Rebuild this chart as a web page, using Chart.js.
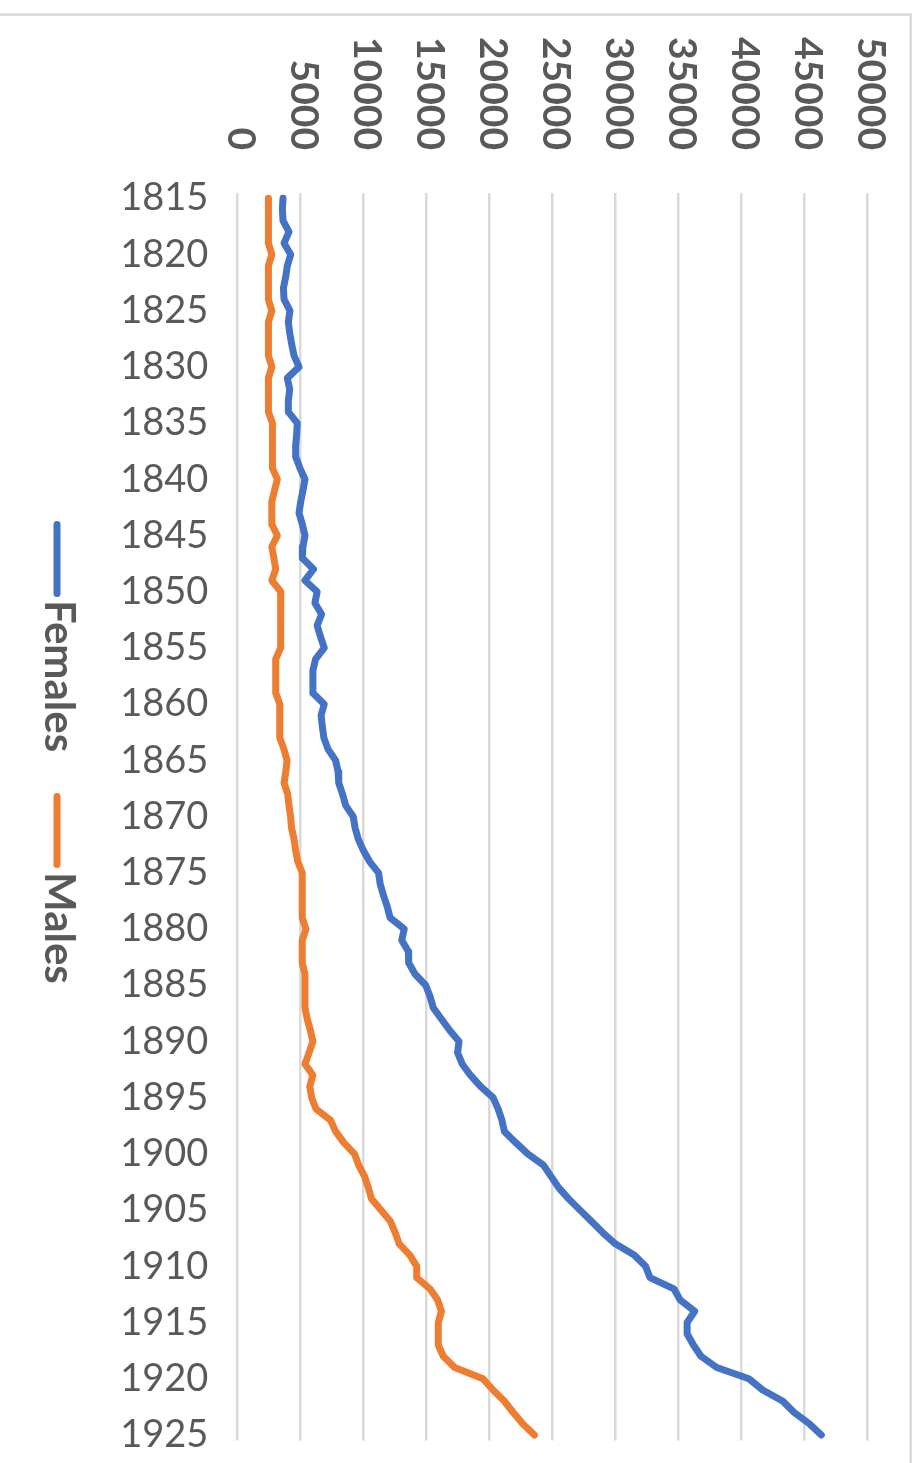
<!DOCTYPE html>
<html><head><meta charset="utf-8">
<script src="https://cdn.jsdelivr.net/npm/chart.js@4.4.1/dist/chart.umd.min.js"></script>
<style>html,body{margin:0;padding:0;background:#fff;} canvas{display:block;}</style>
</head><body>
<canvas id="c" width="922" height="1463"></canvas>
<script>
const years = [
'1815','1816','1817','1818','1819','1820','1821','1822','1823','1824',
'1825','1826','1827','1828','1829','1830','1831','1832','1833','1834',
'1835','1836','1837','1838','1839','1840','1841','1842','1843','1844',
'1845','1846','1847','1848','1849','1850','1851','1852','1853','1854',
'1855','1856','1857','1858','1859','1860','1861','1862','1863','1864',
'1865','1866','1867','1868','1869','1870','1871','1872','1873','1874',
'1875','1876','1877','1878','1879','1880','1881','1882','1883','1884',
'1885','1886','1887','1888','1889','1890','1891','1892','1893','1894',
'1895','1896','1897','1898','1899','1900','1901','1902','1903','1904',
'1905','1906','1907','1908','1909','1910','1911','1912','1913','1914',
'1915','1916','1917','1918','1919','1920','1921','1922','1923','1924',
'1925'];

const females = [
3630,3580,3630,4100,3710,4240,3970,3840,3660,3710,
4180,4050,4160,4320,4500,4900,3970,4160,4050,4050,
4760,4710,4630,4630,4970,5370,5210,5030,4900,5160,
5370,5210,5160,6050,5370,6340,6160,6690,6340,6600,
6900,6210,6000,6000,6000,6900,6650,6750,6870,7200,
7800,8000,8050,8350,8600,9200,9350,9600,10000,10500,
11210,11340,11600,11900,12130,13250,13050,13580,13600,14100,
14950,15300,15550,16200,16850,17600,17480,17850,18500,19300,
20300,20700,21000,21200,22100,23050,24300,24900,25500,26300,
27200,28100,29000,30000,31500,32400,32750,34650,35150,36300,
35700,35700,36200,36800,38050,40600,41700,43300,44200,45400,
46350];

const males = [
2470,2470,2470,2470,2470,2740,2470,2470,2470,2470,
2740,2470,2470,2470,2470,2740,2470,2470,2470,2470,
2790,2790,2790,2790,2790,3180,2950,2740,2740,2740,
3180,2740,2900,3050,2740,3450,3450,3450,3450,3450,
3400,3050,3050,3050,3050,3370,3370,3370,3370,3700,
3950,3850,3711,4000,4100,4230,4300,4500,4630,4800,
5150,5150,5150,5150,5150,5450,5150,5150,5150,5370,
5370,5370,5370,5550,5800,6000,5700,5370,6000,5750,
5900,6250,7400,7800,8450,9300,9630,10100,10400,10650,
11400,12150,12530,12850,13700,14240,14240,15290,15900,16200,
15950,15950,15950,16350,17250,19500,20300,21200,21900,22650,
23580];

const valueTicks = [0,5000,10000,15000,20000,25000,30000,35000,40000,45000,50000];
const seriesNames = ['Females','Males'];
const seriesColors = ['#4472C4','#ED7D31'];

const FONT = 'Lato, "Open Sans", sans-serif';
const TEXT = '#595959';

const framePlugin = {
  id: 'frame',
  beforeDraw(chart) {
    const ctx = chart.ctx;
    ctx.save();
    ctx.fillStyle = '#fff';
    ctx.fillRect(0, 0, chart.width, chart.height);
    ctx.strokeStyle = '#d9d9d9';
    ctx.lineWidth = 2.5;
    ctx.strokeRect(-10, 14.5, 920.7, 1500);
    ctx.restore();
  }
};

const labelsPlugin = {
  id: 'rotLabels',
  afterDraw(chart) {
    const ctx = chart.ctx;
    const xs = chart.scales.x;
    ctx.save();
    ctx.fillStyle = TEXT;
    ctx.font = 'bold 39px ' + FONT;
    ctx.textAlign = 'right';
    ctx.textBaseline = 'alphabetic';
    valueTicks.forEach(v => {
      const px = xs.getPixelForValue(v);
      ctx.save();
      ctx.translate(px - 9.5, 150);
      ctx.rotate(Math.PI / 2);
      ctx.fillText(String(v), 0, 0);
      ctx.restore();
    });
    const leg = [
      {y1: 524.5, y2: 593.5, ty: 600},
      {y1: 796.5, y2: 864.5, ty: 872}
    ];
    ctx.font = 'bold 42px ' + FONT;
    ctx.textAlign = 'left';
    seriesNames.forEach((name, i) => {
      const L = leg[i];
      ctx.strokeStyle = seriesColors[i];
      ctx.lineWidth = 7;
      ctx.lineCap = 'round';
      ctx.beginPath();
      ctx.moveTo(57, L.y1);
      ctx.lineTo(57, L.y2);
      ctx.stroke();
      ctx.save();
      ctx.translate(45, L.ty);
      ctx.rotate(Math.PI / 2);
      ctx.fillStyle = TEXT;
      ctx.fillText(name, 0, 0);
      ctx.restore();
    });
    ctx.restore();
  }
};

new Chart(document.getElementById('c'), {
  type: 'line',
  data: {
    labels: years,
    datasets: [
      {label: seriesNames[0], data: females, borderColor: seriesColors[0], backgroundColor: seriesColors[0],
       borderWidth: 7, pointRadius: 0, tension: 0, borderCapStyle: 'round', borderJoinStyle: 'round', fill: false},
      {label: seriesNames[1], data: males, borderColor: seriesColors[1], backgroundColor: seriesColors[1],
       borderWidth: 7, pointRadius: 0, tension: 0, borderCapStyle: 'round', borderJoinStyle: 'round', fill: false}
    ]
  },
  options: {
    indexAxis: 'y',
    responsive: false,
    animation: false,
    devicePixelRatio: 1,
    layout: {padding: {left: 0, right: 54.7, top: 0, bottom: 22.4}},
    plugins: {legend: {display: false}, tooltip: {enabled: false}},
    scales: {
      x: {
        type: 'linear', position: 'top', min: 0, max: 50000,
        ticks: {display: false, stepSize: 5000},
        grid: {color: '#d9d9d9', lineWidth: 2.5, drawTicks: false},
        border: {display: false},
        afterFit: s => { s.height = 192.6; s.paddingLeft = 0; s.paddingRight = 0; }
      },
      y: {
        type: 'category', offset: true,
        grid: {display: false, drawTicks: false},
        border: {display: false},
        ticks: {
          autoSkip: false, padding: 29, color: TEXT,
          font: {family: FONT, size: 38},
          callback: function(v) { const l = this.getLabelForValue(v); return (Number(l) % 5 === 0) ? l : ''; }
        },
        afterFit: s => { s.width = 237.3; s.paddingTop = 0; s.paddingBottom = 0; }
      }
    }
  },
  plugins: [framePlugin, labelsPlugin]
});
</script>
</body></html>
